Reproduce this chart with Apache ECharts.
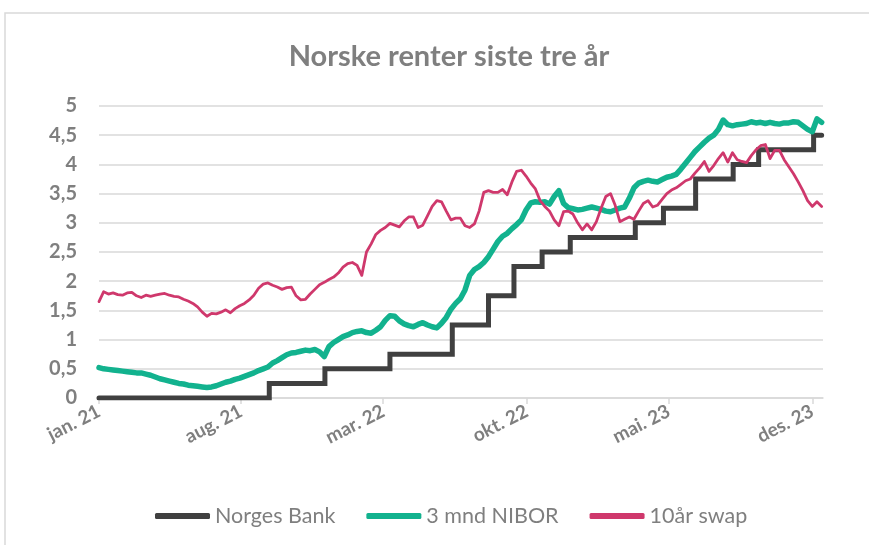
<!DOCTYPE html>
<html><head><meta charset="utf-8">
<script src="https://cdn.jsdelivr.net/npm/echarts@6/dist/echarts.min.js"></script>
<style>html,body{margin:0;padding:0;background:#fff}#c{width:869px;height:545px}</style>
</head><body><div id="c"></div>
<script>
// weekly observations starting 2021-01-01
const seriesStart = '2021-01-01';
const stepDays = 7;
const niborValues = [
0.52,0.50,0.49,0.48,0.47,0.46,0.45,0.44,0.43,0.43,
0.41,0.39,0.36,0.33,0.31,0.29,0.27,0.25,0.24,0.22,
0.21,0.20,0.19,0.18,0.19,0.21,0.24,0.27,0.29,0.32,
0.34,0.37,0.40,0.43,0.47,0.50,0.53,0.60,0.64,0.69,
0.74,0.77,0.78,0.80,0.82,0.81,0.83,0.79,0.71,0.88,
0.95,1.00,1.05,1.08,1.12,1.14,1.15,1.12,1.11,1.16,
1.22,1.33,1.41,1.40,1.32,1.27,1.24,1.22,1.26,1.29,
1.25,1.22,1.20,1.28,1.38,1.52,1.62,1.70,1.85,2.10,
2.20,2.25,2.32,2.42,2.55,2.68,2.77,2.82,2.90,2.97,
3.05,3.22,3.34,3.36,3.35,3.36,3.32,3.45,3.55,3.33,
3.26,3.24,3.22,3.23,3.25,3.27,3.25,3.23,3.20,3.19,
3.22,3.25,3.27,3.42,3.60,3.68,3.71,3.73,3.71,3.70,
3.74,3.78,3.80,3.83,3.92,4.02,4.12,4.22,4.30,4.38,
4.45,4.50,4.60,4.76,4.68,4.66,4.68,4.69,4.70,4.73,
4.71,4.72,4.70,4.72,4.70,4.69,4.71,4.71,4.73,4.72,
4.66,4.60,4.56,4.78,4.72
];
const swapValues = [
1.65,1.82,1.78,1.80,1.77,1.76,1.80,1.81,1.75,1.72,
1.76,1.74,1.76,1.78,1.79,1.76,1.74,1.73,1.69,1.66,
1.62,1.56,1.47,1.40,1.45,1.44,1.47,1.51,1.46,1.53,
1.58,1.62,1.68,1.76,1.88,1.95,1.97,1.93,1.90,1.86,
1.89,1.90,1.75,1.68,1.69,1.78,1.86,1.94,1.98,2.03,
2.07,2.14,2.24,2.30,2.32,2.27,2.10,2.50,2.64,2.80,
2.87,2.92,2.99,2.96,2.93,3.03,3.10,3.10,2.92,2.96,
3.12,3.28,3.38,3.36,3.20,3.05,3.08,3.08,2.95,2.92,
2.98,3.20,3.52,3.55,3.52,3.52,3.57,3.48,3.70,3.88,
3.90,3.80,3.68,3.58,3.38,3.28,3.20,3.05,2.95,3.19,
3.20,3.15,3.00,2.88,2.98,2.88,3.02,3.25,3.45,3.50,
3.30,3.02,3.06,3.10,3.06,3.20,3.33,3.38,3.27,3.30,
3.40,3.50,3.56,3.60,3.66,3.72,3.75,3.85,3.94,4.05,
3.88,3.98,4.10,4.20,4.04,4.20,4.08,4.05,4.03,4.15,
4.25,4.32,4.34,4.10,4.24,4.24,4.08,3.96,3.84,3.70,
3.55,3.38,3.28,3.36,3.28
];
const nbDates = ['2021-01-01','2021-09-12','2021-12-04','2022-03-11','2022-06-12','2022-08-05','2022-09-12','2022-10-24','2022-12-05','2023-03-12','2023-04-23','2023-06-10','2023-08-05','2023-09-12','2023-12-03','2023-12-15'];
const nbValues = [0,0.25,0.5,0.75,1.25,1.75,2.25,2.5,2.75,3,3.25,3.75,4,4.25,4.5,4.5];
const tickDates = ['2021-01-01','2021-08-01','2022-03-01','2022-10-01','2023-05-01','2023-12-01'];
const tickLabels = ['jan. 21','aug. 21','mar. 22','okt. 22','mai. 23','des. 23'];
const axisMin = '2021-01-01';
const axisMax = '2023-12-17';
const seriesNames = ['Norges Bank','3 mnd NIBOR','10år swap'];

const DAY = 86400000;
function ts(s){ const p = s.split('-').map(Number); return Date.UTC(p[0], p[1]-1, p[2]); }
const t0 = ts(seriesStart);
const niborData = niborValues.map((v,i)=>[t0 + i*stepDays*DAY, v]);
const swapData = swapValues.map((v,i)=>[t0 + i*stepDays*DAY, v]);
const nbData = nbDates.map((d,i)=>[ts(d), nbValues[i]]);
const tickTs = tickDates.map(ts);

const FONT = 'Lato';
const GREY = '#7f7f7f';
const chart = echarts.init(document.getElementById('c'), null, {renderer:'canvas'});
chart.setOption({
  animation:false,
  textStyle:{fontFamily:FONT},
  graphic:[{type:'rect', shape:{x:5,y:13,width:900,height:600}, style:{fill:'none', stroke:'#d9d9d9', lineWidth:1.5}, silent:true}],
  title:{text:'Norske renter siste tre år', left:444, top:37, textAlign:'center',
    textStyle:{fontFamily:FONT, fontSize:29, fontWeight:'bold', color:GREY}},
  grid:{left:99, right:46, top:106, bottom:147, containLabel:false},
  legend:{bottom:13, left:150, itemWidth:55, itemHeight:6, itemGap:31, icon:'roundRect',
    textStyle:{fontFamily:FONT, fontSize:21.5, color:GREY},
    data:seriesNames},
  xAxis:{type:'value', min:ts(axisMin), max:ts(axisMax),
    axisLine:{lineStyle:{color:'#d9d9d9', width:1.5}},
    axisTick:{show:true, length:6, lineStyle:{color:'#d9d9d9', width:1.5}, customValues:tickTs},
    axisLabel:{customValues:tickTs, rotate:27, margin:12, color:GREY, fontFamily:FONT, fontSize:19, fontWeight:'bold',
      formatter:function(v){ for(let i=0;i<tickTs.length;i++){ if(Math.abs(tickTs[i]-v)<DAY) return tickLabels[i]; } return ''; }},
    splitLine:{show:false}},
  yAxis:{type:'value', min:0, max:5, interval:0.5,
    axisLine:{show:false}, axisTick:{show:false},
    axisLabel:{margin:22, color:GREY, fontFamily:FONT, fontSize:20, fontWeight:'bold',
      formatter:function(v){ return String(v).replace('.', ','); }},
    splitLine:{lineStyle:{color:'#d9d9d9', width:1.5}}},
  series:[
    {name:seriesNames[0], type:'line', step:'end', data:nbData, symbol:'none',
      lineStyle:{color:'#404040', width:5, cap:'round', join:'miter'}, itemStyle:{color:'#404040'}},
    {name:seriesNames[1], type:'line', data:niborData, symbol:'none',
      lineStyle:{color:'#12b28e', width:5.5, cap:'round', join:'round'}, itemStyle:{color:'#12b28e'}},
    {name:seriesNames[2], type:'line', data:swapData, symbol:'none',
      lineStyle:{color:'#cf386c', width:2.8, cap:'round', join:'round'}, itemStyle:{color:'#cf386c'}}
  ]
});
</script></body></html>
